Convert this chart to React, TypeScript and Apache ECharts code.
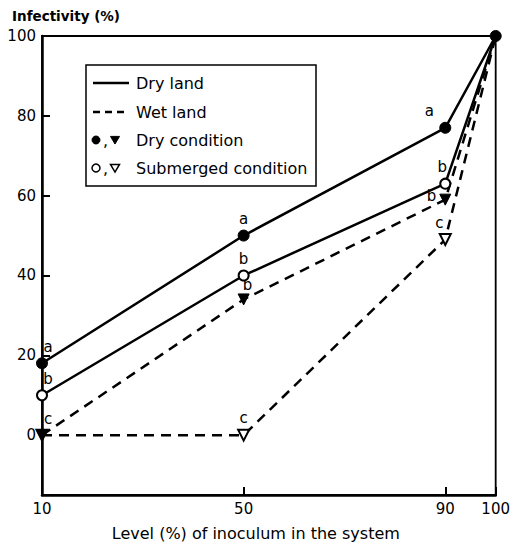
import React, { useEffect, useRef } from "react";
import * as echarts from "echarts";

const xValues = [10, 50, 90, 100];
const xTicks = [10, 50, 90, 100];
const yTicks = [0, 20, 40, 60, 80, 100];

const dryLandDry = [18, 50, 77, 100];
const dryLandSub = [10, 40, 63, 100];
const wetLandDry = [0, 34, 59, 100];
const wetLandSub = [0, 0, 49, 100];

const dryLandDryLetters = ["a", "a", "a", ""];
const dryLandSubLetters = ["b", "b", "b", ""];
const wetLandDryLetters = ["c", "b", "b", ""];
const wetLandSubLetters = ["", "c", "c", ""];

const legendItems = ["Dry land", "Wet land", "Dry condition", "Submerged condition"];

const FONT = "DejaVu Sans";

type LabelPos = { position?: string; offset?: number[] };

function buildData(values: number[], letters: string[], showLast: boolean, labelPos: LabelPos[]) {
  return values.map((v, i) => {
    const item: any = {
      value: [xValues[i], v],
      label: {
        show: letters[i] !== "",
        formatter: letters[i],
        position: labelPos[i]?.position ?? "top",
        offset: labelPos[i]?.offset ?? [0, 0],
      },
    };
    if (i === values.length - 1 && !showLast) item.symbol = "none";
    return item;
  });
}

export default function App() {
  const ref = useRef<HTMLDivElement>(null);
  useEffect(() => {
    if (!ref.current) return;
    const chart = echarts.init(ref.current, null, { renderer: "svg" });
    const labelStyle = { color: "#000", fontSize: 15, fontFamily: FONT, distance: 3 };
    const lineW = 2.5;
    const lx = 86, ly = 65;
    const rowY = [ly + 18, ly + 47, ly + 75, ly + 103];
    const tri = (cx: number, cy: number, s: number) => [
      [cx - s, cy - s * 0.8],
      [cx + s, cy - s * 0.8],
      [cx, cy + s * 0.9],
    ];
    const option: any = {
      animation: false,
      backgroundColor: "#fff",
      grid: {
        left: 42,
        right: 11,
        top: 36,
        bottom: 53,
        show: true,
        borderColor: "#000",
        borderWidth: 1.8,
        backgroundColor: "transparent",
      },
      xAxis: {
        type: "value",
        min: 10,
        max: 100,
        name: "Level (%) of inoculum in the system",
        nameLocation: "middle",
        nameGap: 30,
        nameTextStyle: { color: "#000", fontSize: 16, fontFamily: FONT, padding: [0, 26, 0, 0] },
        axisLine: { onZero: false, lineStyle: { color: "#000", width: 2.5 } },
        axisTick: {
          inside: true,
          length: 8,
          lineStyle: { color: "#000", width: 2 },
          customValues: xTicks,
        },
        axisLabel: {
          color: "#000",
          fontSize: 15,
          fontFamily: FONT,
          margin: 6,
          customValues: xTicks,
        },
        splitLine: { show: false },
      },
      yAxis: {
        type: "value",
        min: -15,
        max: 100,
        name: "Infectivity (%)",
        nameLocation: "end",
        nameGap: 13,
        nameTextStyle: {
          color: "#000",
          fontSize: 13.5,
          fontFamily: FONT,
          fontWeight: "bold",
          align: "left",
          padding: [0, 0, 0, -30],
        },
        axisLine: { show: true, onZero: false, lineStyle: { color: "#000", width: 2.5 } },
        axisTick: {
          show: true,
          inside: true,
          length: 8,
          lineStyle: { color: "#000", width: 2 },
          customValues: yTicks,
        },
        axisLabel: {
          color: "#000",
          fontSize: 15,
          fontFamily: FONT,
          margin: 6,
          customValues: yTicks,
        },
        splitLine: { show: false },
      },
      series: [
        {
          name: "Wet land, submerged",
          type: "line",
          data: buildData(wetLandSub, wetLandSubLetters, false, [{}, {}, { offset: [-6, 0] }, {}]),
          lineStyle: { color: "#000", width: lineW, type: [10, 7] },
          symbol: "triangle",
          symbolRotate: 180,
          symbolSize: 11,
          itemStyle: { color: "#fff", borderColor: "#000", borderWidth: 2 },
          label: labelStyle,
          z: 2,
        },
        {
          name: "Wet land, dry",
          type: "line",
          data: buildData(wetLandDry, wetLandDryLetters, false, [
            { offset: [6, 0] },
            { offset: [4, 2] },
            { position: "left", offset: [0, -4] },
            {},
          ]),
          lineStyle: { color: "#000", width: lineW, type: [10, 7] },
          symbol: "triangle",
          symbolRotate: 180,
          symbolSize: 11,
          itemStyle: { color: "#000", borderColor: "#000", borderWidth: 1 },
          label: labelStyle,
          z: 3,
        },
        {
          name: "Dry land, submerged",
          type: "line",
          data: buildData(dryLandSub, dryLandSubLetters, false, [
            { offset: [6, 0] },
            {},
            { offset: [-3, 0] },
            {},
          ]),
          lineStyle: { color: "#000", width: lineW },
          symbol: "circle",
          symbolSize: 10,
          itemStyle: { color: "#fff", borderColor: "#000", borderWidth: 2 },
          label: labelStyle,
          z: 4,
        },
        {
          name: "Dry land, dry",
          type: "line",
          data: buildData(dryLandDry, dryLandDryLetters, true, [
            { offset: [6, 0] },
            {},
            { offset: [-16, 0] },
            {},
          ]),
          lineStyle: { color: "#000", width: lineW },
          symbol: "circle",
          symbolSize: 11,
          itemStyle: { color: "#000", borderColor: "#000", borderWidth: 1 },
          label: labelStyle,
          z: 5,
        },
      ],
      graphic: [
        {
          type: "rect",
          shape: { x: lx, y: ly, width: 230, height: 121 },
          style: { fill: "#fff", stroke: "#000", lineWidth: 1.5 },
          z: 10,
        },
        {
          type: "line",
          shape: { x1: 93, y1: rowY[0], x2: 129, y2: rowY[0] },
          style: { stroke: "#000", lineWidth: 2.5 },
          z: 11,
        },
        {
          type: "line",
          shape: { x1: 93, y1: rowY[1], x2: 129, y2: rowY[1] },
          style: { stroke: "#000", lineWidth: 2.5, lineDash: [7, 5] },
          z: 11,
        },
        {
          type: "circle",
          shape: { cx: 96, cy: rowY[2], r: 4 },
          style: { fill: "#000", stroke: "#000", lineWidth: 1 },
          z: 11,
        },
        {
          type: "polygon",
          shape: { points: tri(115, rowY[2], 4.5) },
          style: { fill: "#000", stroke: "#000", lineWidth: 1 },
          z: 11,
        },
        {
          type: "circle",
          shape: { cx: 96, cy: rowY[3], r: 4 },
          style: { fill: "#fff", stroke: "#000", lineWidth: 1.5 },
          z: 11,
        },
        {
          type: "polygon",
          shape: { points: tri(115, rowY[3], 4.5) },
          style: { fill: "#fff", stroke: "#000", lineWidth: 1.5 },
          z: 11,
        },
        {
          type: "text",
          x: 103,
          y: rowY[2],
          style: { text: ",", fill: "#000", fontSize: 16, fontFamily: FONT, verticalAlign: "middle" },
          z: 11,
        },
        {
          type: "text",
          x: 103,
          y: rowY[3],
          style: { text: ",", fill: "#000", fontSize: 16, fontFamily: FONT, verticalAlign: "middle" },
          z: 11,
        },
        ...legendItems.map((t, i) => ({
          type: "text",
          x: 136,
          y: rowY[i],
          style: {
            text: t,
            fill: "#000",
            fontSize: 16,
            fontFamily: FONT,
            verticalAlign: "middle",
          },
          z: 11,
        })),
      ],
    };
    chart.setOption(option);
    return () => chart.dispose();
  }, []);
  return (
    <div
      ref={ref}
      style={{ position: "fixed", left: 0, top: 0, width: 513, height: 548, background: "#fff" }}
    />
  );
}
